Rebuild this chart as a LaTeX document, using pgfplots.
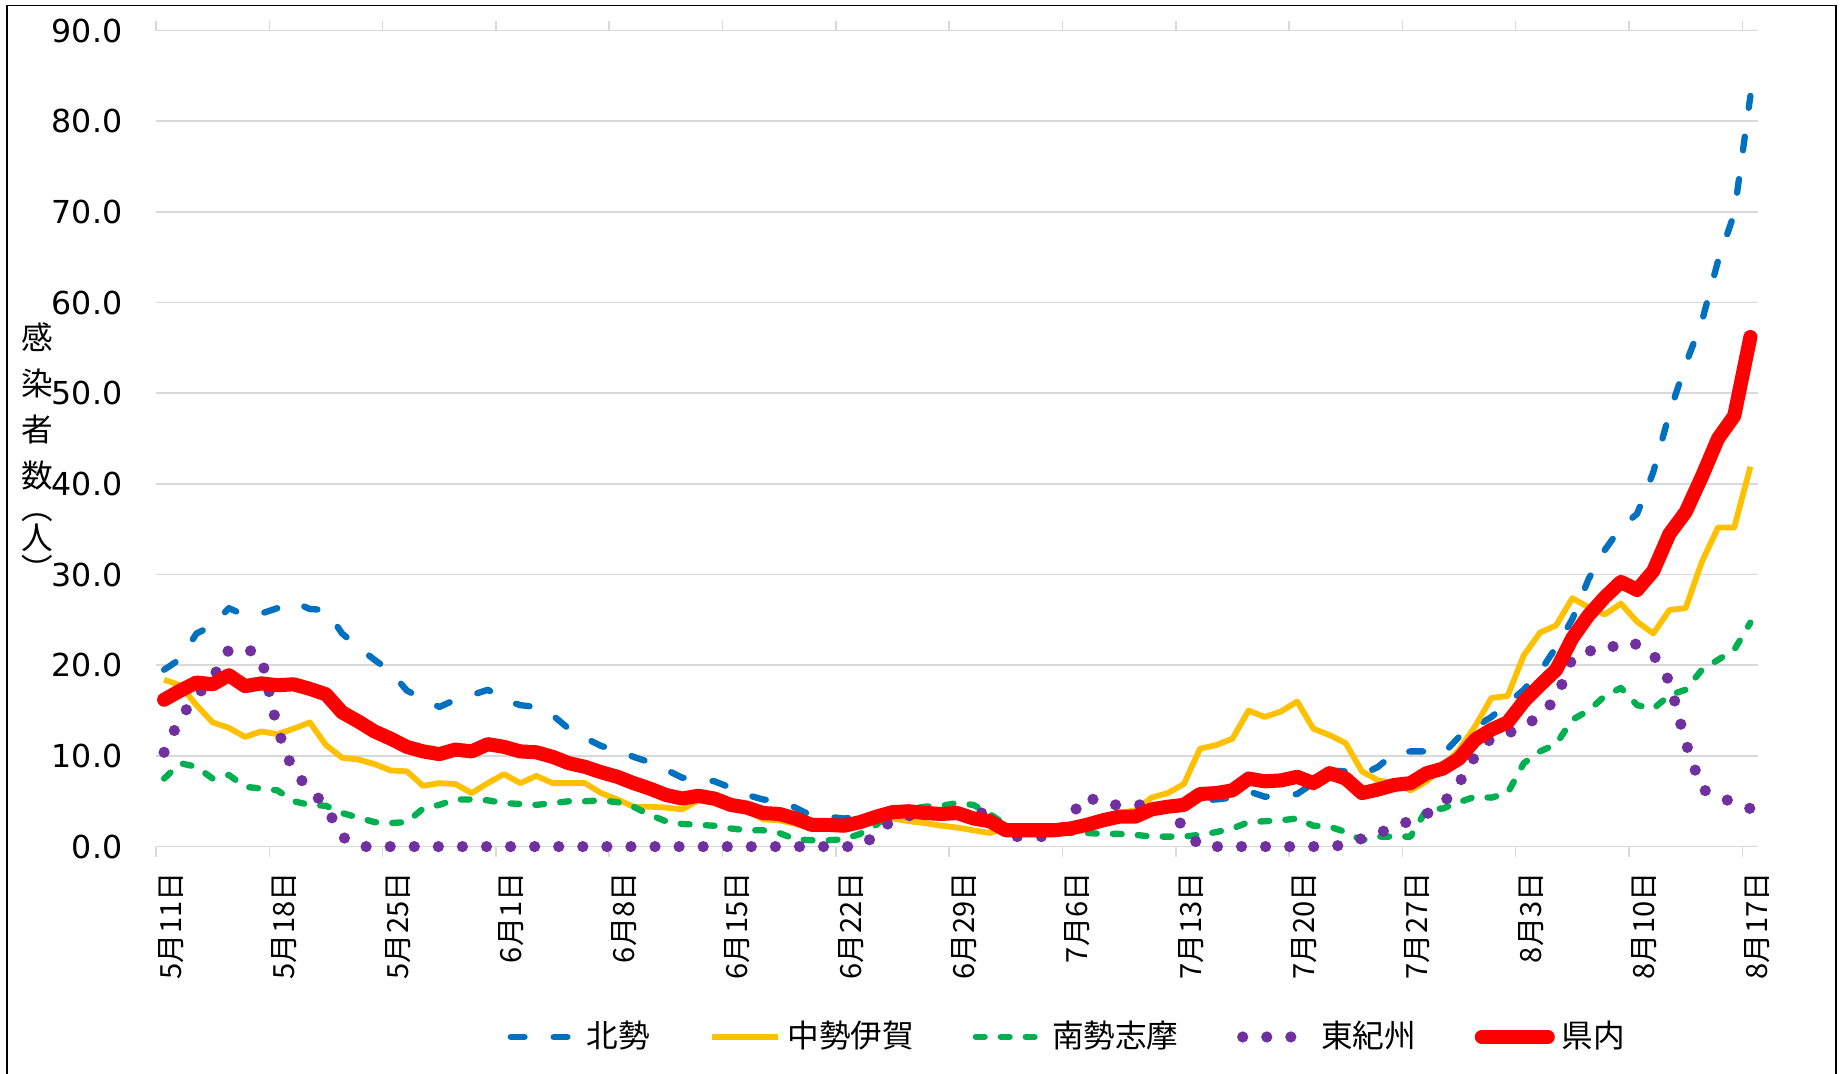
\documentclass[border=0pt]{standalone}
\usepackage{fontspec}
\setmainfont{Noto Sans CJK JP}
\newfontfamily\dejavu{DejaVu Sans}
\usepackage{pgfplots}
\pgfplotsset{compat=1.18}
\usepackage{pgfplotstable}
\definecolor{kblue}{HTML}{0070C0}
\definecolor{korange}{HTML}{FFC000}
\definecolor{kgreen}{HTML}{00B050}
\definecolor{kpurple}{HTML}{7030A0}
\definecolor{kred}{HTML}{FF0000}
\definecolor{gridgray}{HTML}{D9D9D9}
\pgfplotstableread{
d hk ch ns hg kn
0 19.5 18.4 7.5 10.4 16.2
1 20.7 17.8 9.2 14.2 17.2
2 23.5 15.6 8.8 16.6 18.1
3 24.4 13.7 7.5 18.6 17.9
4 26.3 13.1 7.9 21.7 18.9
5 25.5 12.1 6.6 21.9 17.7
6 25.7 12.7 6.4 21.0 18.0
7 26.3 12.4 6.2 13.0 17.8
8 27.0 13.0 5.0 8.2 17.9
9 26.2 13.7 4.6 6.4 17.4
10 26.1 11.2 4.5 4.4 16.8
11 23.5 9.8 3.7 1.1 14.8
12 22.0 9.6 3.2 0 13.8
13 20.6 9.1 2.7 0 12.7
14 19.3 8.4 2.6 0 11.9
15 17.2 8.3 2.7 0 11.0
16 16.3 6.7 4.2 0 10.5
17 15.4 7.0 4.6 0 10.2
18 16.2 6.9 5.2 0 10.7
19 16.7 5.9 5.2 0 10.5
20 17.3 7.0 5.1 0 11.3
21 16.2 8.0 4.8 0 11.0
22 15.6 7.0 4.7 0 10.5
23 15.4 7.8 4.6 0 10.4
24 14.5 7.0 4.8 0 9.9
25 13.0 7.0 5.0 0 9.2
26 12.0 7.0 5.0 0 8.8
27 11.1 5.9 5.1 0 8.2
28 10.6 5.2 4.9 0 7.7
29 9.9 4.4 4.4 0 7.0
30 9.3 4.4 3.5 0 6.4
31 8.5 4.3 2.8 0 5.7
32 7.6 4.1 2.5 0 5.3
33 7.5 5.1 2.4 0 5.6
34 7.2 4.8 2.3 0 5.3
35 6.5 4.2 2.0 0 4.6
36 5.7 4.0 1.8 0 4.3
37 5.2 3.0 1.8 0 3.7
38 5.0 2.9 1.5 0 3.6
39 4.3 2.5 0.8 0 3.1
40 3.4 2.1 0.7 0 2.4
41 3.3 2.1 0.7 0 2.4
42 3.1 2.2 0.8 0 2.3
43 3.3 2.9 1.4 0 2.7
44 3.4 3.6 2.4 1.3 3.3
45 3.6 3.1 3.9 3.0 3.8
46 3.7 2.8 4.2 3.4 3.9
47 3.6 2.6 4.4 3.6 3.7
48 3.5 2.3 4.5 3.6 3.6
49 3.4 2.1 4.8 3.6 3.7
50 3.0 1.8 4.6 3.7 3.1
51 2.7 1.5 3.6 3.7 2.8
52 1.7 2.0 2.4 1.1 1.8
53 1.7 2.2 2.0 1.1 1.8
54 1.8 2.2 1.8 1.1 1.8
55 1.8 2.1 1.6 1.1 1.8
56 2.0 2.1 1.5 3.4 2.0
57 2.3 2.6 1.5 5.6 2.4
58 2.7 3.2 1.4 4.6 2.9
59 3.0 3.7 1.4 4.6 3.3
60 3.1 4.0 1.3 4.6 3.3
61 3.9 5.4 1.1 4.6 4.1
62 4.0 5.9 1.1 4.3 4.4
63 4.2 6.9 1.1 2.1 4.6
64 5.1 10.8 1.3 0 5.8
65 5.2 11.2 1.6 0 5.9
66 5.4 11.9 2.0 0 6.2
67 6.1 15.0 2.7 0 7.5
68 5.5 14.3 2.8 0 7.2
69 5.6 14.9 2.9 0 7.3
70 5.8 16.0 3.1 0 7.7
71 7.0 13.0 2.3 0 7.0
72 8.4 12.3 2.2 0 8.1
73 8.3 11.4 1.6 0.2 7.5
74 7.9 8.3 0.7 0.9 5.9
75 8.8 7.3 1.1 1.4 6.3
76 10.3 7.0 1.1 2.3 6.8
77 10.5 6.2 1.1 2.8 7.0
78 10.5 7.2 4.1 3.6 8.1
79 10.2 8.8 4.2 4.7 8.6
80 12.1 10.7 4.9 7.0 9.7
81 13.2 13.3 5.5 10.0 11.8
82 14.3 16.4 5.4 12.0 12.9
83 15.8 16.6 5.9 12.5 13.7
84 17.3 21.1 9.2 13.2 16.0
85 19.3 23.6 10.5 14.5 17.8
86 22.0 24.4 11.3 16.3 19.5
87 25.1 27.4 14.0 20.8 23.0
88 29.5 26.4 15.0 21.6 25.5
89 32.7 25.6 16.6 21.5 27.5
90 35.2 26.8 17.5 22.6 29.2
91 36.7 24.8 15.6 22.3 28.3
92 41.3 23.5 15.2 21.2 30.4
93 47.8 26.1 16.7 18.2 34.5
94 53.2 26.3 17.3 11.5 36.9
95 57.9 31.4 19.5 6.3 40.8
96 64.6 35.2 20.6 5.7 45.0
97 69.8 35.2 21.7 4.7 47.5
98 82.8 41.9 24.7 4.2 56.2
}\data
\begin{document}
\begin{tikzpicture}
\path[use as bounding box] (0,0) rectangle (18.41,10.74);
\draw[line width=0.55pt, black] (0.073,-0.05) -- (0.073,10.685) -- (18.36,10.685) -- (18.36,-0.05);
\begin{axis}[
  at={(1.56cm,2.274cm)}, anchor=south west,
  scale only axis, width=16.025cm, height=8.16cm,
  xmin=-0.5, xmax=98.5, ymin=0, ymax=90,
  axis line style={draw=none},
  ytick={0,10,...,90},
  ymajorgrids, grid style={draw=gridgray, line width=0.45pt},
  major tick length=0pt,
  yticklabel style={font=\dejavu\fontsize{9}{11}\selectfont, anchor=east, inner sep=0pt, xshift=-3.3mm,
    /pgf/number format/fixed, /pgf/number format/fixed zerofill, /pgf/number format/precision=1,
    /pgf/number format/assume math mode=true},
  xtick={0,7,...,98},
  xticklabels={5月11日,5月18日,5月25日,6月1日,6月8日,6月15日,6月22日,6月29日,7月6日,7月13日,7月20日,7月27日,8月3日,8月10日,8月17日},
  xticklabel style={font=\fontsize{8.3}{10}\selectfont, xshift=0.7mm, yshift=-2.5mm, rotate=90, anchor=east, inner sep=0pt},
  extra x ticks={-0.5,6.5,...,97.5},
  extra x tick labels={},
  extra x tick style={major tick length=1mm, tick align=outside, tick style={draw=gridgray, line width=0.45pt}, xmajorgrids=false},
  clip=false,
  legend columns=5,
  legend style={at={(axis description cs:0.219,-0.2333)}, anchor=west, draw=none, fill=none, inner sep=0pt,
    font=\fontsize{9}{11}\selectfont,
    /tikz/every odd column/.append style={column sep=0cm},
    /tikz/every even column/.append style={column sep=0.515cm}},
  legend image code/.code={\draw[#1] (0cm,0cm) -- (0.66cm,0cm);},
]
\addplot[kblue, line width=1.8pt, line cap=round, line join=round, dash pattern=on 3.9pt off 8.3pt] table[x=d,y=hk] {\data};
\addplot[korange, line width=1.65pt, line join=round] table[x=d,y=ch] {\data};
\addplot[kgreen, line width=1.8pt, line cap=round, line join=round, dash pattern=on 2.5pt off 4.6pt] table[x=d,y=ns] {\data};
\addplot[kpurple, line width=3.2pt, line cap=round, line join=round, dash pattern=on 0pt off 6.85pt] table[x=d,y=hg] {\data};
\addplot[kred, line width=4.0pt, line cap=round, line join=round] table[x=d,y=kn] {\data};
\legend{北勢,中勢伊賀,南勢志摩,東紀州,県内}
\end{axis}
\node[anchor=north, inner sep=0pt, font=\fontsize{9}{13.1}\selectfont, align=center] at (0.375cm,7.52cm)
  {感\\染\\者\\数\\[-4pt]︵\\[-4.5pt]人\\[-4pt]︶};
\end{tikzpicture}
\end{document}
